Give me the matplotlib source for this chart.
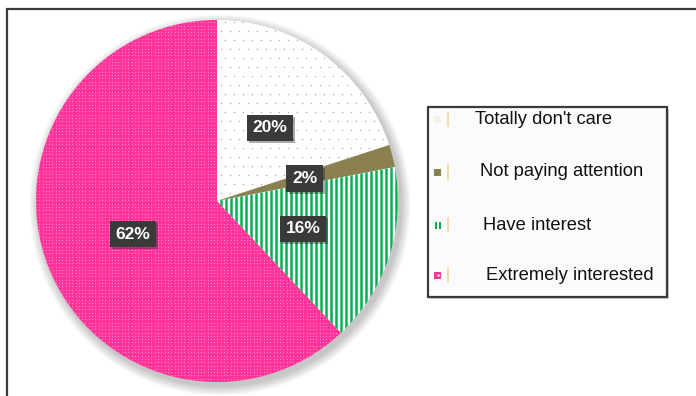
import numpy as np
import matplotlib.pyplot as plt
import matplotlib.patheffects as pe
from matplotlib.patches import Rectangle, Circle

plt.rcParams['font.family'] = ['Liberation Sans', 'DejaVu Sans']

labels = ["Totally don't care", "Not paying attention", "Have interest", "Extremely interested"]
shares = [20, 2, 16, 62]
colors = ["#FFFFFF", "#8B8050", "#FFFFFF", "#FF3399"]

W, H = 696, 396
fig = plt.figure(figsize=(W / 100, H / 100), dpi=100)
ax = fig.add_axes([0, 0, 1, 1])


def Y(y):
    # pixel rows counted from the top
    return H - y


cx, cy, r = 217, Y(201), 181

# soft drop shadow under the pie
for k in range(14, 0, -1):
    ax.add_patch(Circle((cx + 3, cy - 4), r + k * 0.7, color='black', alpha=0.014, lw=0, zorder=0))

wedges, texts, autotexts = ax.pie(
    shares, colors=colors, startangle=90, counterclock=False,
    center=(cx, cy), radius=r, autopct='%.0f%%', pctdistance=0.5,
    wedgeprops=dict(linewidth=0),
    textprops=dict(color='white', fontsize=12.5, fontweight='bold'),
)
ax.set_xlim(0, W)
ax.set_ylim(0, H)
ax.set_aspect('equal')
ax.set_axis_off()

x0, x1, y0, y1 = cx - r, cx + r, cy - r, cy + r

# sparse tan dots on the white wedge
gy = np.arange(y0, y1, 9.0)
pts = []
for i, yy in enumerate(gy):
    for xx in np.arange(x0 + (4.5 if i % 2 else 0), x1, 9.0):
        pts.append((xx, yy))
pts = np.array(pts)
sc = ax.scatter(pts[:, 0], pts[:, 1], s=1.2, c='#BDB48E', lw=0, zorder=3)
sc.set_clip_path(wedges[0])

# green vertical stripes
vl = ax.vlines(np.arange(x0, x1, 5.0), y0, y1, colors='#00B050', lw=1.8, zorder=3)
vl.set_clip_path(wedges[2])

# fine white dots on the pink wedge
gx, gyy = np.meshgrid(np.arange(x0, x1, 3.3), np.arange(y0, y1, 3.3))
sc2 = ax.scatter(gx.ravel(), gyy.ravel(), s=0.8, c='#FF8CC4', lw=0, zorder=3)
sc2.set_clip_path(wedges[3])

for t in autotexts:
    t.set_zorder(5)
    t.set_bbox(dict(boxstyle='square,pad=0.32', fc='#3A3A3A', ec='none'))
    t.get_bbox_patch().set_path_effects([
        pe.SimplePatchShadow(offset=(1.5, -1.5), alpha=0.35), pe.Normal()])

# outer frame
ax.add_patch(Rectangle((7, -20), W + 20, Y(9) + 20, fill=False, ec='#3A3A3A', lw=1.6, zorder=1))

# legend box
lx0, ly0, lx1, ly1 = 428, 107, 667, 297
leg = Rectangle((lx0, Y(ly1)), lx1 - lx0, ly1 - ly0, fc='#FBFBFB', ec='#3A3A3A', lw=1.6, zorder=6)
leg.set_path_effects([pe.SimplePatchShadow(offset=(1.5, -1.5), alpha=0.25), pe.Normal()])
ax.add_patch(leg)

rows = [119, 172, 225, 275]
text_x = [475, 480, 483, 486]
for i, lab in enumerate(labels):
    ry = Y(rows[i])
    if i == 0:
        ax.add_patch(Rectangle((434, ry - 3.5), 7, 7, fc='#F4F2EA', ec='none', zorder=7))
    elif i == 2:
        for bx in (434.5, 438.5):
            ax.add_patch(Rectangle((bx, ry - 3.5), 2, 7, fc='#00B050', ec='none', zorder=7))
    else:
        ax.add_patch(Rectangle((434, ry - 3.5), 7, 7, fc=colors[i], ec='none', zorder=7))
        if i == 3:
            ax.scatter([437.5], [ry], s=3, c='white', lw=0, zorder=8)
    ax.plot([448, 448], [ry - 7, ry + 7], color='#F7D3A0', lw=1.2, zorder=7)
    ax.text(text_x[i], ry, lab, fontsize=13.2, va='center', ha='left', color='#111111', zorder=8)

fig.savefig('out.png', dpi=100)
